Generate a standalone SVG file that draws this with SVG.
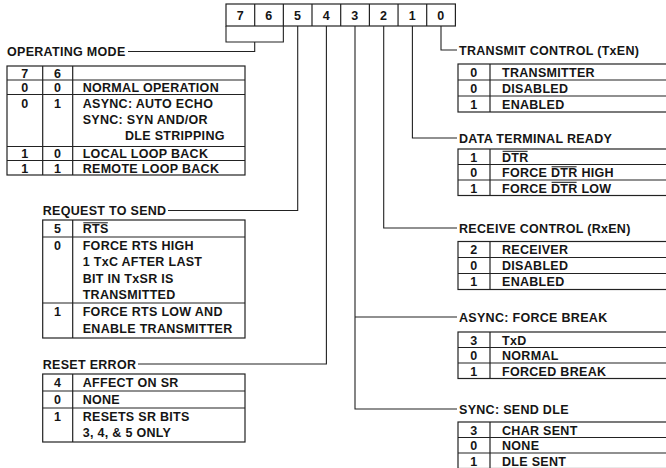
<svg xmlns="http://www.w3.org/2000/svg" width="666" height="468" viewBox="0 0 666 468">
<style>
text{font-family:"Liberation Sans",Arial,Helvetica,sans-serif;font-weight:bold;font-size:12.5px;letter-spacing:0.3px;fill:#151515}
.c{text-anchor:middle}
.box{fill:none;stroke:#222;stroke-width:1.2}
.ln{fill:none;stroke:#222;stroke-width:1.1}
.ov{fill:none;stroke:#151515;stroke-width:1}
</style>
<rect width="666" height="468" fill="#fff"/>

<g id="register">
<rect class="box" x="226" y="4" width="229.4" height="22"/>
<path class="box" d="M254.7,4V26M283.35,4V26M312,4V26M340.7,4V26M369.4,4V26M398.05,4V26M426.7,4V26"/>
<text class="c" x="240.3" y="20">7</text>
<text class="c" x="269" y="20">6</text>
<text class="c" x="297.7" y="20">5</text>
<text class="c" x="326.4" y="20">4</text>
<text class="c" x="355" y="20">3</text>
<text class="c" x="383.7" y="20">2</text>
<text class="c" x="412.4" y="20">1</text>
<text class="c" x="441" y="20">0</text>
</g>

<g id="connectors">
<path class="ln" d="M226,26V42H283.35V26M254.7,42V51.5H128"/>
<path class="ln" d="M297.7,26V210.5H168"/>
<path class="ln" d="M326.4,26V364H138"/>
<path class="ln" d="M355,26V409H457M355,317H457"/>
<path class="ln" d="M383.7,26V228H457"/>
<path class="ln" d="M412.4,26V138H457"/>
<path class="ln" d="M441,26V50H457"/>
</g>

<g id="operating-mode">
<text x="7" y="56">OPERATING MODE</text>
<rect class="box" x="7" y="66" width="238" height="109"/>
<path class="box" d="M42.7,66V175M72.7,66V175M7,80H245M7,94.5H245M7,146.5H245M7,160.5H245"/>
<text class="c" x="24.8" y="77.5">7</text><text class="c" x="57.7" y="77.5">6</text>
<text class="c" x="24.8" y="92">0</text><text class="c" x="57.7" y="92">0</text>
<text x="82.7" y="92">NORMAL OPERATION</text>
<text class="c" x="24.8" y="107.5">0</text><text class="c" x="57.7" y="107.5">1</text>
<text x="82.7" y="107.5">ASYNC: AUTO ECHO</text>
<text x="82.7" y="123.5">SYNC: SYN AND/OR</text>
<text x="125" y="139.5">DLE STRIPPING</text>
<text class="c" x="24.8" y="158">1</text><text class="c" x="57.7" y="158">0</text>
<text x="82.7" y="158">LOCAL LOOP BACK</text>
<text class="c" x="24.8" y="172.5">1</text><text class="c" x="57.7" y="172.5">1</text>
<text x="82.7" y="172.5">REMOTE LOOP BACK</text>
</g>

<g id="request-to-send">
<text x="42.7" y="215">REQUEST TO SEND</text>
<rect class="box" x="42.7" y="220" width="202.3" height="118"/>
<path class="box" d="M72.7,220V338M42.7,237H245M42.7,303H245"/>
<text class="c" x="57.7" y="233">5</text>
<text x="82.7" y="233">RTS</text>
<path class="ov" d="M83.3,222.8H107.8"/>
<text class="c" x="57.7" y="249.5">0</text>
<text x="82.7" y="249.5">FORCE RTS HIGH</text>
<text x="82.7" y="266">1 TxC AFTER LAST</text>
<text x="82.7" y="282.5">BIT IN TxSR IS</text>
<text x="82.7" y="299">TRANSMITTED</text>
<text class="c" x="57.7" y="316">1</text>
<text x="82.7" y="316">FORCE RTS LOW AND</text>
<text x="82.7" y="333">ENABLE TRANSMITTER</text>
</g>

<g id="reset-error">
<text x="42.7" y="368.5">RESET ERROR</text>
<rect class="box" x="42.7" y="374" width="202.3" height="68"/>
<path class="box" d="M72.7,374V442M42.7,391H245M42.7,408H245"/>
<text class="c" x="57.7" y="387">4</text><text x="82.7" y="387">AFFECT ON SR</text>
<text class="c" x="57.7" y="404">0</text><text x="82.7" y="404">NONE</text>
<text class="c" x="57.7" y="420.5">1</text><text x="82.7" y="420.5">RESETS SR BITS</text>
<text x="82.7" y="437">3, 4, &amp; 5 ONLY</text>
</g>

<g id="transmit-control">
<text x="459" y="54.5">TRANSMIT CONTROL (TxEN)</text>
<rect class="box" x="458" y="64" width="220" height="48"/>
<path class="box" d="M490,64V112M458,80H678M458,96H678"/>
<text class="c" x="474" y="76.5">0</text><text x="502" y="76.5">TRANSMITTER</text>
<text class="c" x="474" y="92.5">0</text><text x="502" y="92.5">DISABLED</text>
<text class="c" x="474" y="108.5">1</text><text x="502" y="108.5">ENABLED</text>
</g>

<g id="data-terminal-ready">
<text x="459" y="142.5">DATA TERMINAL READY</text>
<rect class="box" x="458" y="149" width="220" height="46.5"/>
<path class="box" d="M490,149V195.5M458,164.5H678M458,180H678"/>
<text class="c" x="474" y="161.5">1</text><text x="502" y="161.5">DTR</text>
<path class="ov" d="M502.6,151.3H527.6"/>
<text class="c" x="474" y="177">0</text><text x="502" y="177">FORCE DTR HIGH</text>
<path class="ov" d="M551.6,166.8H576.6"/>
<text class="c" x="474" y="192.5">1</text><text x="502" y="192.5">FORCE DTR LOW</text>
<path class="ov" d="M551.6,182.3H576.6"/>
</g>

<g id="receive-control">
<text x="459" y="232.5">RECEIVE CONTROL (RxEN)</text>
<rect class="box" x="458" y="241.5" width="220" height="48"/>
<path class="box" d="M490,241.5V289.5M458,257.5H678M458,273.5H678"/>
<text class="c" x="474" y="254">2</text><text x="502" y="254">RECEIVER</text>
<text class="c" x="474" y="270">0</text><text x="502" y="270">DISABLED</text>
<text class="c" x="474" y="286">1</text><text x="502" y="286">ENABLED</text>
</g>

<g id="async-force-break">
<text x="459" y="321.5">ASYNC: FORCE BREAK</text>
<rect class="box" x="458" y="332" width="220" height="46.5"/>
<path class="box" d="M490,332V378.5M458,347.5H678M458,363H678"/>
<text class="c" x="474" y="344.5">3</text><text x="502" y="344.5">TxD</text>
<text class="c" x="474" y="360">0</text><text x="502" y="360">NORMAL</text>
<text class="c" x="474" y="375.5">1</text><text x="502" y="375.5">FORCED BREAK</text>
</g>

<g id="sync-send-dle">
<text x="459" y="413.5">SYNC: SEND DLE</text>
<rect class="box" x="458" y="422" width="220" height="46.5"/>
<path class="box" d="M490,422V468.5M458,437.5H678M458,453H678"/>
<text class="c" x="474" y="434.5">3</text><text x="502" y="434.5">CHAR SENT</text>
<text class="c" x="474" y="450">0</text><text x="502" y="450">NONE</text>
<text class="c" x="474" y="465.5">1</text><text x="502" y="465.5">DLE SENT</text>
</g>
</svg>
